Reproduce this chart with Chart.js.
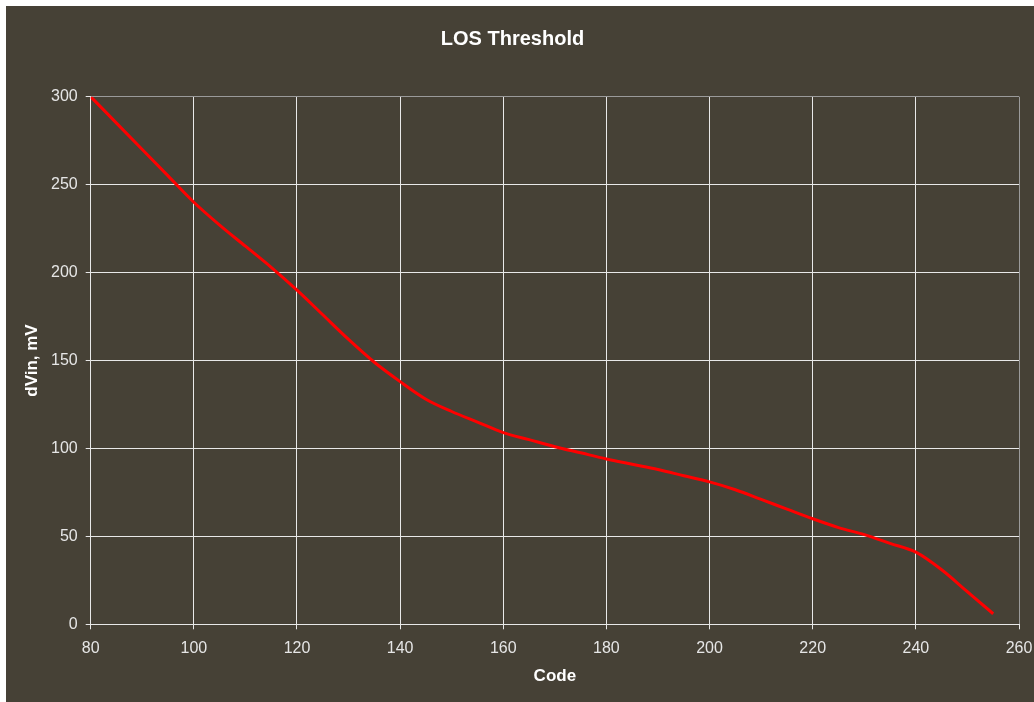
<!DOCTYPE html>
<html>
<head>
<meta charset="utf-8">
<title>LOS Threshold</title>
<script src="https://cdn.jsdelivr.net/npm/chart.js@4/dist/chart.umd.min.js"></script>
<style>
    html, body { margin: 0; padding: 0; background: #ffffff; }
    #wrap {
        position: absolute;
        left: 6px;
        top: 6px;
        width: 1028px;
        height: 696px;
        background: #464136;
    }
</style>
</head>
<body>
<div id="wrap"><canvas id="losChart"></canvas></div>
<script>
    'use strict';

    // Values
    var codes = [80, 85, 90, 95, 100, 105, 110, 115, 120, 125, 130, 135, 140, 145, 150,
        155, 160, 165, 170, 175, 180, 185, 190, 195, 200, 205, 210, 215, 220, 225, 230,
        235, 240, 245, 250, 255];
    var dVin = [300, 285, 270, 255, 240, 227, 215, 203, 190, 176, 162, 149, 138, 128, 121,
        115, 109, 105, 101, 97.5, 94, 91, 88, 84.5, 81, 76.5, 71, 65.5, 60, 55, 51,
        46, 41, 31, 18.5, 6];
    var xTicks = [80, 100, 120, 140, 160, 180, 200, 220, 240, 260];
    var yTicks = [0, 50, 100, 150, 200, 250, 300];

    var points = [];
    codes.forEach(function (c, i) {
        points.push({ x: c, y: dVin[i] });
    });

    var labelColor = '#e6e6e6';
    var gridWhite = '#e8e8e8';
    var gridGray = '#9a9a9a';

    var ctx = document.getElementById('losChart').getContext('2d');
    new Chart(ctx, {
        type: 'line',
        data: {
            datasets: [{
                label: 'dVin',
                data: points,
                borderColor: '#ff0000',
                borderWidth: 3,
                pointRadius: 0,
                fill: false,
                cubicInterpolationMode: 'monotone'
            }]
        },
        options: {
            responsive: true,
            maintainAspectRatio: false,
            animation: false,
            layout: { padding: { left: 0, right: 15, top: 0, bottom: 0 } },
            plugins: {
                legend: { display: false },
                tooltip: { enabled: false },
                title: {
                    display: true,
                    text: 'LOS Threshold',
                    color: '#ffffff',
                    font: { family: 'Liberation Sans, Arial, sans-serif', size: 20, weight: 'bold' },
                    padding: { top: 21, bottom: 45.7 }
                }
            },
            scales: {
                x: {
                    type: 'linear',
                    min: xTicks[0],
                    max: xTicks[xTicks.length - 1],
                    afterBuildTicks: function (axis) {
                        axis.ticks = xTicks.map(function (v) { return { value: v }; });
                    },
                    afterFit: function (axis) {
                        axis.height = 77.7;
                        // let the layout padding alone decide the right edge
                        axis.paddingLeft = 0;
                        axis.paddingRight = 0;
                    },
                    ticks: {
                        color: labelColor,
                        padding: 10,
                        maxRotation: 0,
                        font: { family: 'Liberation Sans, Arial, sans-serif', size: 16 }
                    },
                    grid: {
                        color: function (c) {
                            return c.tick && c.tick.value === 260 ? gridGray : gridWhite;
                        },
                        tickColor: gridWhite,
                        tickLength: 5,
                        lineWidth: 1
                    },
                    border: { color: gridWhite, width: 1 },
                    title: {
                        display: true,
                        text: 'Code',
                        color: '#ffffff',
                        font: { family: 'Liberation Sans, Arial, sans-serif', size: 17, weight: 'bold' },
                        padding: { top: 0, bottom: 15 }
                    }
                },
                y: {
                    type: 'linear',
                    min: yTicks[0],
                    max: yTicks[yTicks.length - 1],
                    afterBuildTicks: function (axis) {
                        axis.ticks = yTicks.map(function (v) { return { value: v }; });
                    },
                    afterFit: function (axis) { axis.width = 84.7; },
                    ticks: {
                        color: labelColor,
                        padding: 8,
                        font: { family: 'Liberation Sans, Arial, sans-serif', size: 16 }
                    },
                    grid: {
                        color: function (c) {
                            return c.tick && c.tick.value === 300 ? gridGray : gridWhite;
                        },
                        tickColor: gridWhite,
                        tickLength: 5,
                        lineWidth: 1
                    },
                    border: { color: gridWhite, width: 1 },
                    title: {
                        display: true,
                        text: 'dVin, mV',
                        color: '#ffffff',
                        font: { family: 'Liberation Sans, Arial, sans-serif', size: 17, weight: 'bold' },
                        padding: { top: 16, bottom: 0 }
                    }
                }
            }
        }
    });
</script>
</body>
</html>
